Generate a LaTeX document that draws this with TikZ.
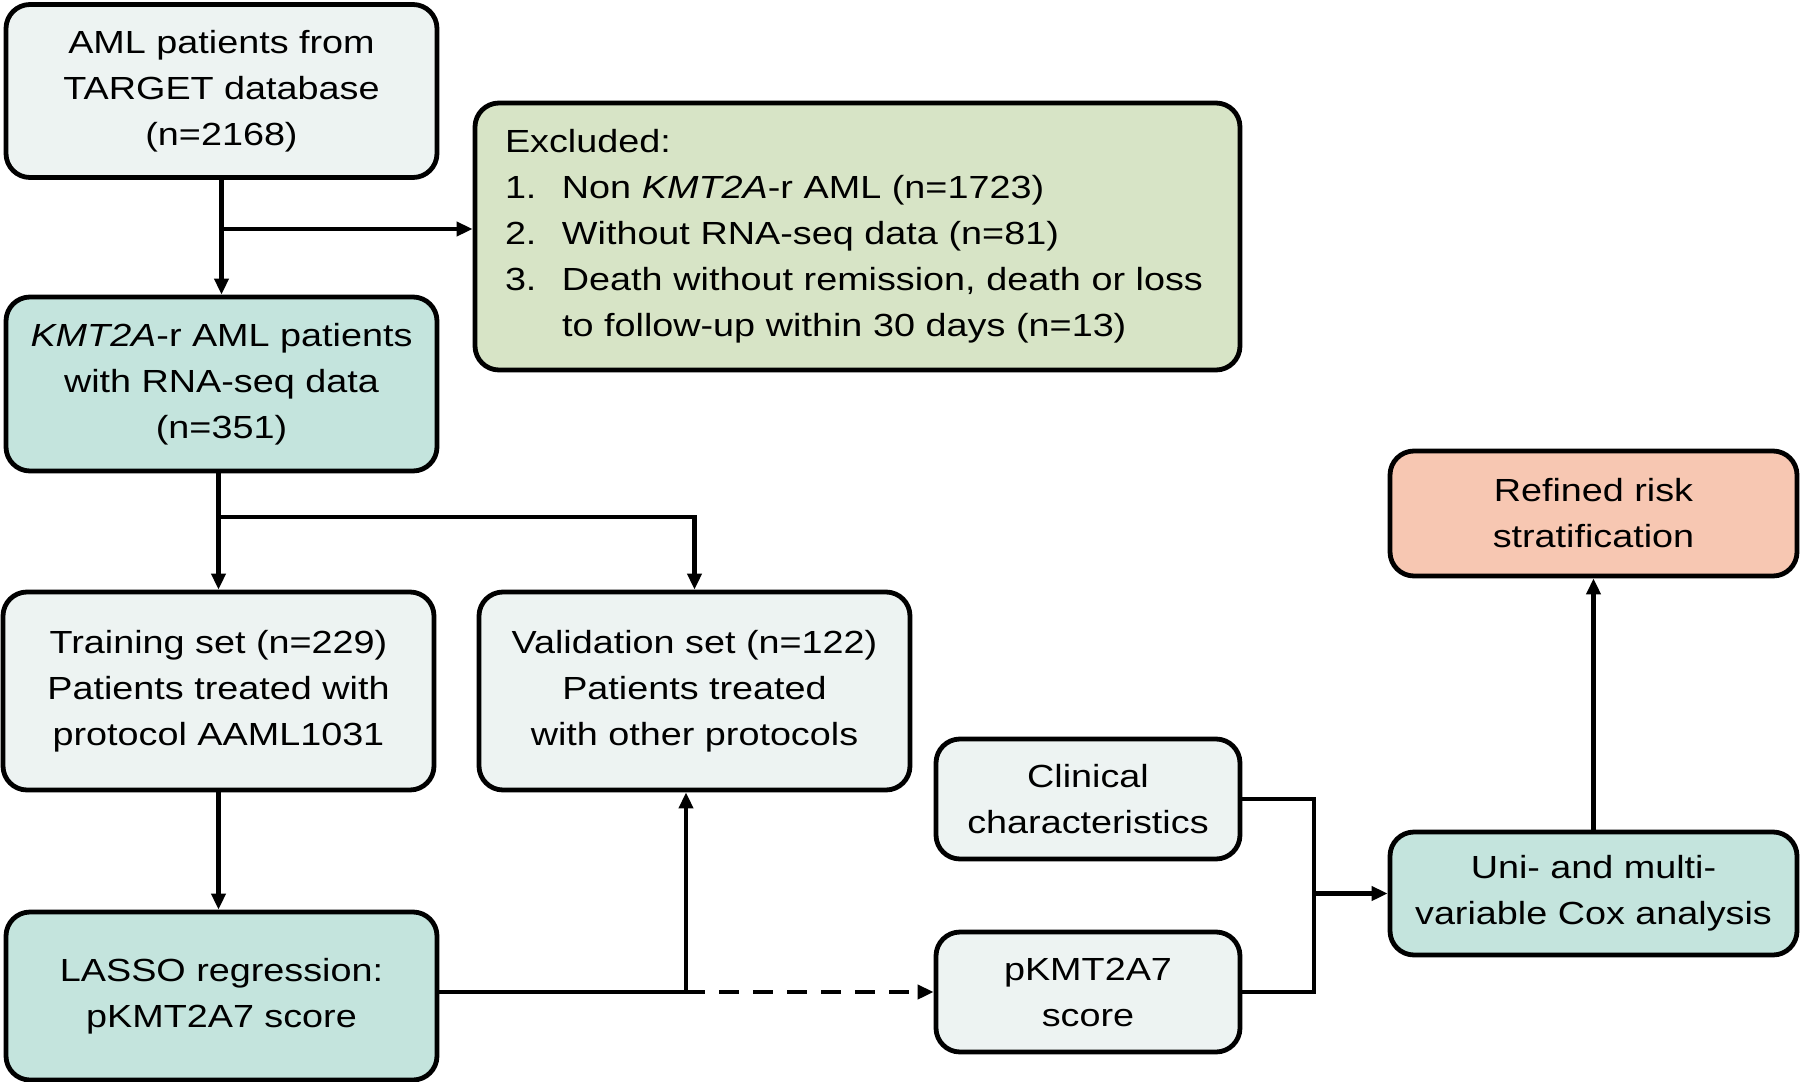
\documentclass[tikz,border=0pt]{standalone}
\usepackage{fontspec}
\setmainfont{Liberation Sans}[FakeStretch=1.18]
\usetikzlibrary{arrows.meta}
\definecolor{cpale}{HTML}{EDF3F2}
\definecolor{cteal}{HTML}{C4E4DD}
\definecolor{cgreen}{HTML}{D7E4C6}
\definecolor{csalmon}{HTML}{F7C7B2}
\begin{document}
\begin{tikzpicture}[x=0.5pt,y=-0.5pt,
  box/.style={draw, line width=2.4pt, rounded corners=12pt, inner sep=0pt, align=center,
    font=\fontsize{16}{23}\selectfont},
  conn/.style={line width=2.2pt},
  arr/.style={conn,-{Triangle[length=8pt,width=7pt]}}]
\useasboundingbox (0,0) rectangle (1800,1082);

\node[box, fill=cpale, minimum width=215.5pt, minimum height=86.5pt] (src) at (221.5,91)
  {AML patients from\\TARGET database\\(n=2168)};
\node[box, fill=cgreen, minimum width=382.5pt, minimum height=133.5pt, align=left,
  text width=352.5pt] (excl) at (857.5,236.5)
  {Excluded:\\
   \makebox[28.5pt][l]{1.}Non \textit{KMT2A}-r AML (n=1723)\\
   \makebox[28.5pt][l]{2.}Without RNA-seq data (n=81)\\
   \makebox[28.5pt][l]{3.}Death without remission, death or loss\\
   \makebox[28.5pt][l]{}to follow-up within 30 days (n=13)};
\node[box, fill=cteal, minimum width=215.5pt, minimum height=87pt] (kmt) at (221.5,384)
  {\textit{KMT2A}-r AML patients\\with RNA-seq data\\(n=351)};
\node[box, fill=cpale, minimum width=215.5pt, minimum height=99pt] (train) at (218.5,691)
  {Training set (n=229)\\Patients treated with\\protocol AAML1031};
\node[box, fill=cpale, minimum width=215.5pt, minimum height=99pt] (valid) at (694.5,691)
  {Validation set (n=122)\\Patients treated\\with other protocols};
\node[box, fill=cteal, minimum width=215.5pt, minimum height=84pt] (lasso) at (221.5,996)
  {LASSO regression:\\pKMT2A7 score};
\node[box, fill=cpale, minimum width=152pt, minimum height=60pt] (clin) at (1088,799)
  {Clinical\\characteristics};
\node[box, fill=cpale, minimum width=152pt, minimum height=60pt] (score) at (1088,992)
  {pKMT2A7\\score};
\node[box, fill=cteal, minimum width=203.5pt, minimum height=61.5pt] (cox) at (1593.5,893.5)
  {Uni- and multi-\\variable Cox analysis};
\node[box, fill=csalmon, minimum width=203.5pt, minimum height=62.5pt] (refined) at (1593.5,513.5)
  {Refined risk\\stratification};

\coordinate (j1) at (222,229);
\coordinate (j2) at (218,517);
\coordinate (j3) at (686,992);
\coordinate (j4) at (705,992);
\coordinate (j5) at (1314,893.5);

\draw[arr] (src.south) -- (kmt.north);
\draw[arr] (j1) -- (excl.west |- j1);
\draw[arr] (train.north |- kmt.south) -- (train.north);
\draw[arr] (j2) -| (valid.north);
\draw[arr] (train.south) -- (train.south |- lasso.north);
\draw[conn] (lasso.east |- j3) -- (j4);
\draw[arr] (j3) -- (j3 |- valid.south);
\draw[arr, dash pattern=on 10pt off 7pt, dash phase=10pt] (j4) -- (score.west |- j4);
\draw[conn] (clin.east) -| (j5 |- score.east) -- (score.east);
\draw[arr] (j5) -- (cox.west);
\draw[arr] (cox.north) -- (refined.south);
\end{tikzpicture}
\end{document}
